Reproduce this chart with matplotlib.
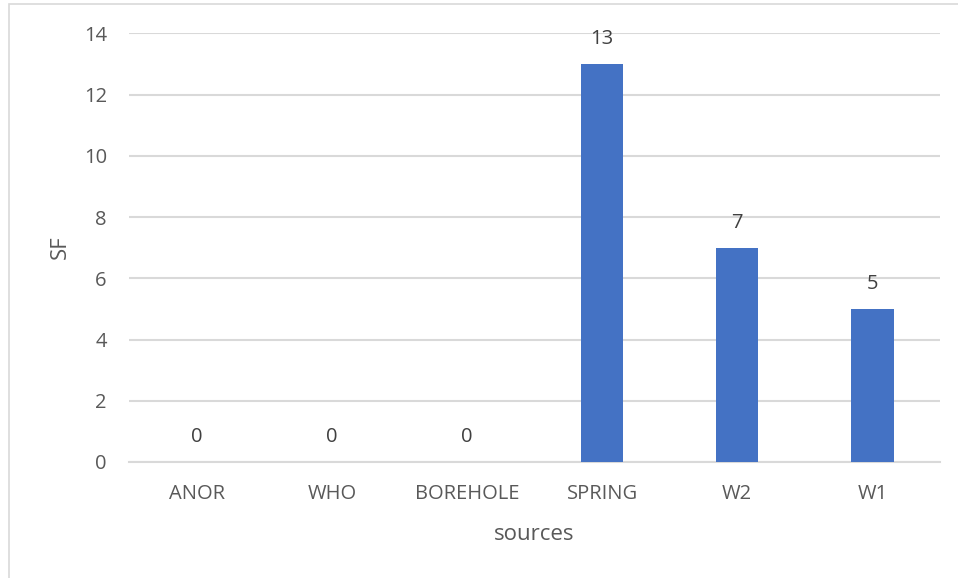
import matplotlib.pyplot as plt
from matplotlib.patches import Rectangle

# SF counts per water source
sources = ["ANOR", "WHO", "BOREHOLE", "SPRING", "W2", "W1"]
sf_values = [0, 0, 0, 13, 7, 5]
y_ticks = [0, 2, 4, 6, 8, 10, 12, 14]

BAR_COLOR = "#4472C4"
TEXT_COLOR = "#595959"
GRID_COLOR = "#D9D9D9"

plt.rcParams['font.family'] = ['Open Sans', 'DejaVu Sans']

fig = plt.figure(figsize=(9.58, 5.78), dpi=100)
ax = fig.add_axes([0.1347, 0.2007, 0.8465, 0.7417])

x = range(len(sources))
bars = ax.bar(x, sf_values, width=0.313, color=BAR_COLOR, zorder=3)

# value labels above each bar
for rect, val in zip(bars, sf_values):
    ax.annotate(str(val), (rect.get_x() + rect.get_width() / 2, rect.get_height()),
                xytext=(0, 18), textcoords="offset points",
                ha="center", va="center", fontsize=14.5, color="#404040")

ax.set_xlim(-0.5, len(sources) - 0.5)
ax.set_ylim(0, 14)
ax.set_yticks(y_ticks)
ax.set_xticks(list(x))
ax.set_xticklabels(sources)

ax.yaxis.grid(True, color=GRID_COLOR, linewidth=1.5, zorder=0)
ax.set_axisbelow(True)
for side in ["top", "right", "left"]:
    ax.spines[side].set_visible(False)
ax.spines["bottom"].set_color(GRID_COLOR)
ax.spines["bottom"].set_linewidth(1.5)

ax.tick_params(axis="y", length=0, pad=16, labelsize=14.5, labelcolor=TEXT_COLOR)
ax.tick_params(axis="x", length=0, pad=16, labelsize=14.5, labelcolor=TEXT_COLOR)

ax.set_xlabel("sources", fontsize=16, color=TEXT_COLOR, labelpad=14)
ax.set_ylabel("SF", fontsize=16, color=TEXT_COLOR, labelpad=9)

# light chart border
fig.patches.append(Rectangle((9 / 958, -0.05), 1.1, 1 - 4 / 578 + 0.05,
                             transform=fig.transFigure, fill=False,
                             edgecolor=GRID_COLOR, linewidth=1.2))

fig.savefig("out.png", dpi=100)
